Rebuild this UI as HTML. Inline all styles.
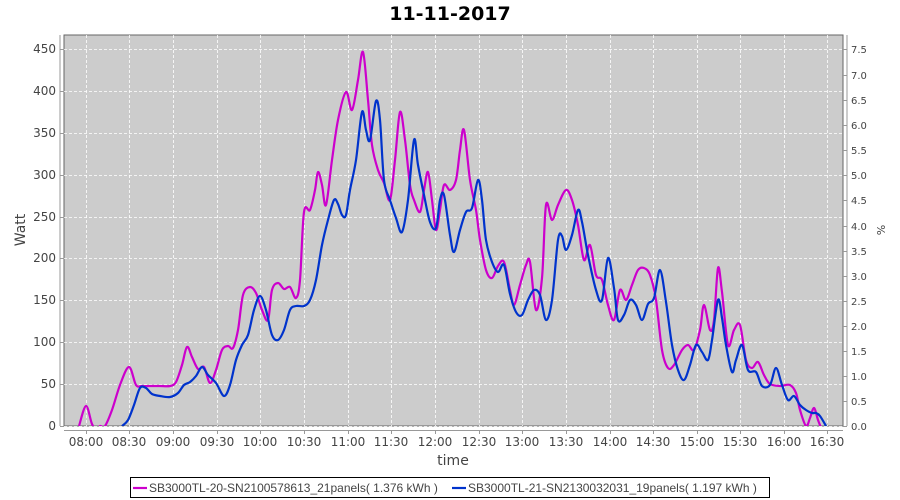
<!DOCTYPE html>
<html><head><meta charset="utf-8"><style>body{margin:0;background:#fff}svg{display:block;font-family:"DejaVu Sans","Liberation Sans",sans-serif}</style></head><body>
<svg width="900" height="500" viewBox="0 0 900 500">
<defs><clipPath id="c"><rect x="64" y="35" width="779" height="391"/></clipPath></defs>
<text x="450" y="20" text-anchor="middle" font-size="19" font-weight="bold" fill="#000">11-11-2017</text>
<rect x="64" y="35" width="779" height="391" fill="#cccccc" stroke="#666" stroke-width="1"/>
<g stroke="#fff" stroke-width="0.8" stroke-dasharray="3,2" fill="none">
<path d="M64 426.5H843M64 384.5H843M64 342.5H843M64 300.5H843M64 258.5H843M64 217.5H843M64 175.5H843M64 133.5H843M64 91.5H843M64 49.5H843"/>
<path d="M86.5 35V426M129.5 35V426M173.5 35V426M217.5 35V426M260.5 35V426M304.5 35V426M348.5 35V426M391.5 35V426M435.5 35V426M479.5 35V426M522.5 35V426M566.5 35V426M610.5 35V426M653.5 35V426M697.5 35V426M740.5 35V426M784.5 35V426M827.5 35V426"/>
</g>
<g clip-path="url(#c)" fill="none" stroke-width="2.2" stroke-linejoin="round">
<path id="m" stroke="#cc00cc" data-p="79,426 86,406 92,424 97,430 100,426 105,426 112,410 120,385 129,367 136,385 142,386 150,386 160,386 170,386 176,382 182,365 187,347 192,357 198,369 204,367 210,383 216,370 222,350 228,346 233,348 238,330 243,295 250,287 256,293 262,310 268,320 272,290 278,283 284,289 290,287 296,298 300,280 304,212 310,210 315,190 318,172 322,185 326,205 332,160 338,120 346,92 352,110 358,80 363,52 368,100 372,145 378,170 384,183 390,200 395,160 400,112 405,140 410,185 414,200 420,212 424,190 428,172 432,200 436,230 440,210 444,185 450,190 456,180 460,150 464,130 470,180 476,210 480,240 486,270 492,278 498,266 504,262 510,290 514,305 520,285 526,265 530,262 536,310 542,278 546,205 552,220 558,205 566,190 572,200 578,225 584,260 590,245 596,275 602,280 608,305 614,320 620,290 626,300 632,285 638,270 644,268 650,275 656,300 662,350 668,368 674,365 682,350 688,345 694,350 700,330 704,305 710,330 714,320 718,268 722,292 728,345 734,330 740,325 746,360 752,368 758,362 764,375 770,384 780,386 790,385 796,393 800,410 806,426 810,418 814,408 818,420 822,430"/>
<path id="b" stroke="#0033cc" data-p="122,426 128,420 134,405 140,388 146,388 152,394 160,396 170,397 178,393 184,385 190,382 196,376 202,367 208,375 216,383 224,396 230,385 236,360 242,345 248,335 254,310 260,296 266,310 272,335 278,340 284,330 290,310 296,306 304,306 310,300 316,280 322,245 328,220 334,200 338,204 342,215 346,215 350,190 356,160 362,112 366,130 370,140 376,101 380,120 384,180 390,200 396,218 402,232 408,200 414,140 418,165 424,195 430,222 436,228 440,200 444,195 450,235 454,252 460,230 466,212 472,208 478,180 482,200 486,240 492,262 498,272 504,265 510,294 516,312 522,315 528,300 534,290 540,295 546,320 552,300 558,240 562,236 566,250 572,235 578,210 582,222 588,255 596,290 602,300 608,258 614,288 618,320 624,315 630,300 636,305 642,320 648,304 654,298 660,270 666,302 672,345 678,370 684,380 690,365 696,345 702,352 708,360 712,340 718,300 722,318 726,345 732,372 736,360 742,345 748,370 756,372 762,386 770,385 776,368 782,385 788,400 794,396 800,405 806,410 812,413 816,413 820,416 826,426"/>
</g>
<g stroke="#999" stroke-width="1">
<path d="M60 35V426M60 426.5H64M60 384.5H64M60 342.5H64M60 300.5H64M60 258.5H64M60 217.5H64M60 175.5H64M60 133.5H64M60 91.5H64M60 49.5H64"/>
<path d="M847 35V426M843 426.5H847M843 401.5H847M843 376.5H847M843 351.5H847M843 326.5H847M843 301.5H847M843 276.5H847M843 251.5H847M843 226.5H847M843 200.5H847M843 175.5H847M843 150.5H847M843 125.5H847M843 100.5H847M843 75.5H847M843 49.5H847"/>
<path d="M64 430.5H843M86.5 430V434M129.5 430V434M173.5 430V434M217.5 430V434M260.5 430V434M304.5 430V434M348.5 430V434M391.5 430V434M435.5 430V434M479.5 430V434M522.5 430V434M566.5 430V434M610.5 430V434M653.5 430V434M697.5 430V434M740.5 430V434M784.5 430V434M827.5 430V434"/>
</g>
<g font-size="12" fill="#444" text-anchor="end">
<text x="56" y="430">0</text><text x="56" y="388">50</text><text x="56" y="346">100</text><text x="56" y="304">150</text><text x="56" y="262">200</text><text x="56" y="221">250</text><text x="56" y="179">300</text><text x="56" y="137">350</text><text x="56" y="95">400</text><text x="56" y="53">450</text>
</g>
<g font-size="10" fill="#444">
<text x="851" y="430">0.0</text><text x="851" y="405">0.5</text><text x="851" y="380">1.0</text><text x="851" y="355">1.5</text><text x="851" y="330">2.0</text><text x="851" y="305">2.5</text><text x="851" y="280">3.0</text><text x="851" y="255">3.5</text><text x="851" y="230">4.0</text><text x="851" y="204">4.5</text><text x="851" y="179">5.0</text><text x="851" y="154">5.5</text><text x="851" y="129">6.0</text><text x="851" y="104">6.5</text><text x="851" y="79">7.0</text><text x="851" y="53">7.5</text>
</g>
<g font-size="12" fill="#444" text-anchor="middle">
<text x="86" y="446">08:00</text><text x="129" y="446">08:30</text><text x="173" y="446">09:00</text><text x="217" y="446">09:30</text><text x="260" y="446">10:00</text><text x="304" y="446">10:30</text><text x="348" y="446">11:00</text><text x="391" y="446">11:30</text><text x="435" y="446">12:00</text><text x="479" y="446">12:30</text><text x="522" y="446">13:00</text><text x="566" y="446">13:30</text><text x="610" y="446">14:00</text><text x="653" y="446">14:30</text><text x="697" y="446">15:00</text><text x="740" y="446">15:30</text><text x="784" y="446">16:00</text><text x="827" y="446">16:30</text>
</g>
<text x="453" y="465" text-anchor="middle" font-size="14" fill="#444">time</text>
<text transform="translate(25,230) rotate(-90)" text-anchor="middle" font-size="14" fill="#444">Watt</text>
<text transform="translate(877,230) rotate(90)" text-anchor="middle" font-size="11" fill="#444">%</text>
<rect x="130.5" y="477.5" width="639" height="20" fill="#fff" stroke="#000"/>
<g font-family="Liberation Sans, sans-serif" font-size="12" fill="#444">
<path d="M133 488H147" stroke="#cc00cc" stroke-width="2.2"/>
<text x="149" y="492">SB3000TL-20-SN2100578613_21panels( 1.376 kWh )</text>
<path d="M452 488H466" stroke="#0033cc" stroke-width="2.2"/>
<text x="468" y="492">SB3000TL-21-SN2130032031_19panels( 1.197 kWh )</text>
</g>
</svg>
<script>
["m","b"].forEach(function(id){var e=document.getElementById(id);var p=e.getAttribute("data-p").trim().split(/\s+/).map(function(s){return s.split(",").map(Number)});
var d="M"+p[0][0]+" "+p[0][1];for(var i=0;i<p.length-1;i++){var a=p[i-1]||p[i],b=p[i],c=p[i+1],f=p[i+2]||c;
d+="C"+(b[0]+(c[0]-a[0])/6).toFixed(1)+" "+(b[1]+(c[1]-a[1])/6).toFixed(1)+" "+(c[0]-(f[0]-b[0])/6).toFixed(1)+" "+(c[1]-(f[1]-b[1])/6).toFixed(1)+" "+c[0]+" "+c[1];}
e.setAttribute("d",d);});
</script>
</body></html>
